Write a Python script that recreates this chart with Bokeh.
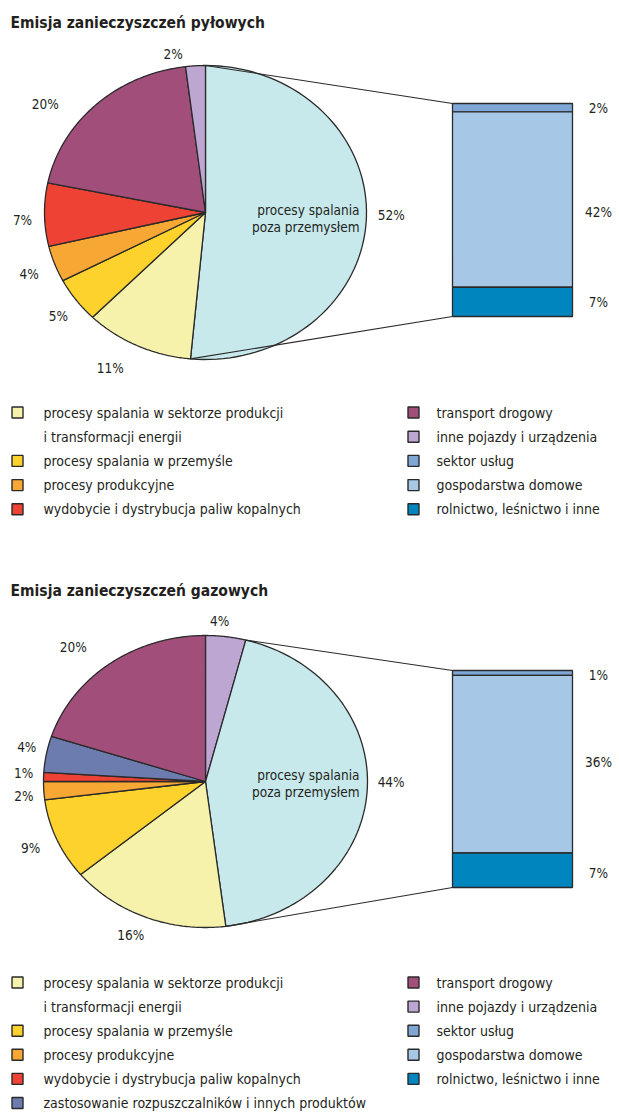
import numpy as np
from bokeh.plotting import figure
from bokeh.models import Range1d
from bokeh.core.properties import value
from bokeh.embed import file_html
from bokeh.resources import INLINE

# ---------------- data ----------------
titles = ["Emisja zanieczyszczeń pyłowych", "Emisja zanieczyszczeń gazowych"]
center_label = ["procesy spalania", "poza przemysłem"]

labels = {
    "energ": "procesy spalania w sektorze produkcji",
    "energ2": "i transformacji energii",
    "przem": "procesy spalania w przemyśle",
    "prod": "procesy produkcyjne",
    "wydob": "wydobycie i dystrybucja paliw kopalnych",
    "rozp": "zastosowanie rozpuszczalników i innych produktów",
    "transport": "transport drogowy",
    "inne": "inne pojazdy i urządzenia",
    "uslugi": "sektor usług",
    "gosp": "gospodarstwa domowe",
    "roln": "rolnictwo, leśnictwo i inne",
}

dust_cats = ["poza", "energ", "przem", "prod", "wydob", "transport", "inne"]
dust_vals = [52, 11, 5, 4, 7, 20, 2]
dust_bar_cats = ["uslugi", "gosp", "roln"]
dust_bar_vals = [2, 42, 7]

gas_cats = ["inne", "poza", "energ", "przem", "prod", "wydob", "rozp", "transport"]
gas_vals = [4, 44, 16, 9, 2, 1, 4, 20]
gas_bar_cats = ["uslugi", "gosp", "roln"]
gas_bar_vals = [1, 36, 7]

legend_left_dust = ["energ", "energ2", "przem", "prod", "wydob"]
legend_left_gas = ["energ", "energ2", "przem", "prod", "wydob", "rozp"]
legend_right = ["transport", "inne", "uslugi", "gosp", "roln"]

# ---------------- style ----------------
colors = {
    "poza": "#c8e9ec",
    "energ": "#f6f2ac",
    "przem": "#fdd22c",
    "prod": "#f7a733",
    "wydob": "#ee4234",
    "rozp": "#6d7cae",
    "transport": "#a24e7b",
    "inne": "#bea6d3",
    "uslugi": "#7fa7d6",
    "gosp": "#a7c7e6",
    "roln": "#0085bf",
}
EDGE = "#2a2a2a"
TXT = "#231f20"
FONT = "'Liberation Sans Narrow', 'DejaVu Sans Condensed', 'Roboto Condensed', Roboto, sans-serif"
LBL = "13.5px"
LEG = "14px"

W, H = 619, 1113
p = figure(width=W, height=H, output_backend="svg", toolbar_location=None,
           x_range=Range1d(0, W), y_range=Range1d(H, 0),
           min_border=0)
p.axis.visible = False
p.grid.visible = False
p.outline_line_color = None
p.background_fill_color = "white"


def txt(x, y, s, size="12px", align="center", bold=False):
    p.text(x=x, y=y, text=s, text_font=value(FONT), text_font_size=size,
           text_align=align, text_baseline="middle", text_color=TXT,
           text_font_style="bold" if bold else "normal")


def pie_of_bar(cats, vals, bar_vals, cx, cy, rx, ry, bar_x0, bar_x1, bar_top, bar_bot,
               nudges, bar_nudges, center_y):
    total = float(sum(vals))
    ang = np.concatenate([[0.0], np.cumsum(vals) / total * 2 * np.pi])
    xs, ys, fc = [], [], []
    for i, c in enumerate(cats):
        t = np.linspace(ang[i], ang[i + 1], 80)
        xs.append(list(np.concatenate([[cx], cx + rx * np.sin(t)])))
        ys.append(list(np.concatenate([[cy], cy - ry * np.cos(t)])))
        fc.append(colors[c])
    p.patches(xs=xs, ys=ys, fill_color=fc, line_color=EDGE, line_width=1.3)
    # percentage labels
    mids = (ang[:-1] + ang[1:]) / 2
    lx = cx + (rx + 22) * np.sin(mids) + np.array([n[0] for n in nudges])
    ly = cy - (ry + 16) * np.cos(mids) + np.array([n[1] for n in nudges])
    txt(list(lx), list(ly), [f"{v}%" for v in vals], size=LBL)
    # connectors
    k = cats.index("poza")
    a0, a1 = ang[k], ang[k + 1]
    p.segment(x0=[cx + rx * np.sin(a0), cx + rx * np.sin(a1)],
              y0=[cy - ry * np.cos(a0), cy - ry * np.cos(a1)],
              x1=[bar_x0, bar_x0], y1=[bar_top, bar_bot],
              line_color=EDGE, line_width=1.1)
    # bar
    btot = float(sum(bar_vals))
    edges = bar_top + np.concatenate([[0.0], np.cumsum(bar_vals)]) / btot * (bar_bot - bar_top)
    p.quad(left=bar_x0, right=bar_x1, top=list(edges[:-1]), bottom=list(edges[1:]),
           fill_color=[colors[c] for c in ["uslugi", "gosp", "roln"]],
           line_color=EDGE, line_width=1.3)
    bmid = (edges[:-1] + edges[1:]) / 2 + np.array(bar_nudges)
    txt([598] * 3, list(bmid), [f"{v}%" for v in bar_vals], size=LBL)
    # centre text
    txt([359, 359], [center_y, center_y + 17], center_label, size=LBL, align="right")


# titles
txt([10], [22], [titles[0]], size="15.5px", align="left", bold=True)
txt([10], [590], [titles[1]], size="15.5px", align="left", bold=True)

pie_of_bar(dust_cats, dust_vals, dust_bar_vals, 205, 212, 161, 147, 452, 572, 103, 316,
           [(3, -5), (-18, 8), (0, 6), (-5, 4), (0, 5), (-36, 11), (-21, 4)],
           [0, 12, 0], 209)
pie_of_bar(gas_cats, gas_vals, gas_bar_vals, 205, 781, 162, 146, 452, 572, 670, 887,
           [(-9, 0), (2, -10), (-7, 3), (-6, 2), (2, 4), (2, -3), (2, -4), (-24, -3)],
           [2, -2, 3], 774)


def legend(rows_left, top, step):
    yl = [top + i * step for i in range(len(rows_left))]
    sq = [(y, c) for y, c in zip(yl, rows_left) if c != "energ2"]
    p.rect(x=[17] * len(sq), y=[s[0] for s in sq], width=11, height=11,
           fill_color=[colors[s[1]] for s in sq], line_color=EDGE, line_width=1.4)
    txt([43] * len(yl), yl, [labels[c] for c in rows_left], size=LEG, align="left")
    yr = [top + i * step for i in range(len(legend_right))]
    p.rect(x=[413] * len(yr), y=yr, width=11, height=11,
           fill_color=[colors[c] for c in legend_right], line_color=EDGE, line_width=1.4)
    txt([436] * len(yr), yr, [labels[c] for c in legend_right], size=LEG, align="left")


legend(legend_left_dust, 412, 24.2)
legend(legend_left_gas, 982, 24.1)

open("out.html", "w").write(file_html(p, INLINE))
